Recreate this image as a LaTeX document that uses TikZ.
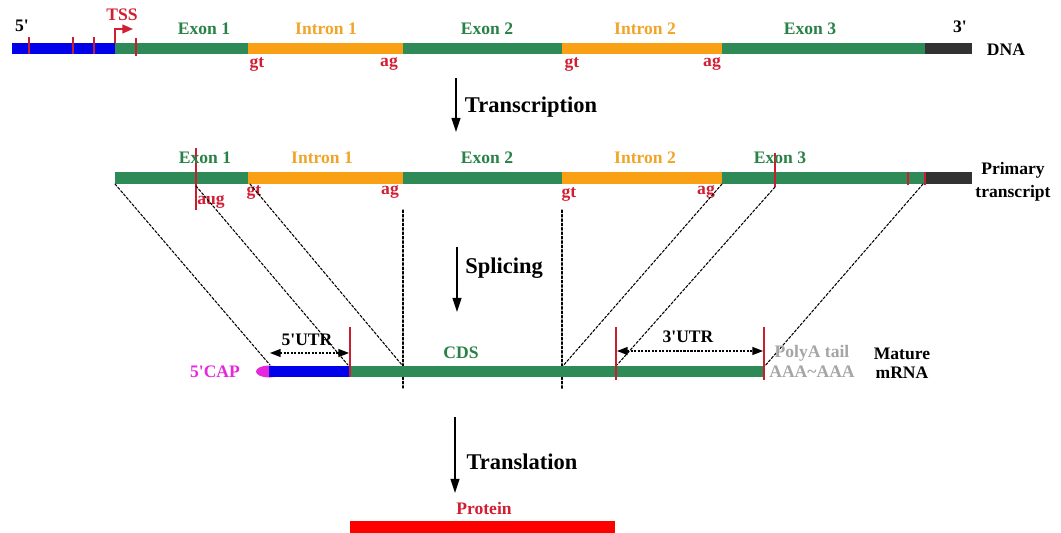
\documentclass[tikz,border=0pt]{standalone}
\usepackage{fontspec}
\setmainfont{Liberation Serif}
\usepackage{tkz-euclide}
\usetikzlibrary{arrows.meta}

\definecolor{dnablue}{RGB}{0,0,235}
\definecolor{exongreen}{RGB}{46,139,87}
\definecolor{introngold}{RGB}{250,160,20}
\definecolor{tailgray}{RGB}{50,50,50}
\definecolor{tickred}{RGB}{200,30,45}
\definecolor{labred}{RGB}{210,30,50}
\definecolor{capmag}{RGB}{230,40,220}
\definecolor{polygray}{RGB}{165,165,165}
\definecolor{labgreen}{RGB}{40,130,70}
\definecolor{labgold}{RGB}{240,165,40}

\tikzset{
  lab/.style={font=\bfseries\fontsize{10}{13}\selectfont, inner sep=0pt},
  steplab/.style={font=\bfseries\fontsize{12.8}{15}\selectfont, inner sep=0pt},
  site/.style={draw=tickred, line width=0.8pt},
  splice/.style={black, line width=0.6pt, dash pattern=on 1.5pt off 1pt},
  flow/.style={black, line width=1pt, -{Triangle[length=8pt,width=5pt]}},
  span/.style={black, line width=0.8pt, dash pattern=on 1.2pt off 0.8pt,
    {Triangle[length=6pt,width=4.5pt]}-{Triangle[length=6pt,width=4.5pt]}},
  tssarrow/.style={draw=labred, line width=0.9pt, -{Triangle[length=6pt,width=5pt]}}
}

\begin{document}
\begin{tikzpicture}[x=0.02cm,y=-0.02cm]
  \useasboundingbox (0,0) rectangle (1061,533);

  % DNA
  \foreach \xa/\xb/\col in {12/115/dnablue, 115/248/exongreen, 248/403/introngold,
      403/562/exongreen, 562/722/introngold, 722/925/exongreen, 925/972/tailgray}
    \fill[\col] (\xa,43) rectangle (\xb,54);
  \foreach \xt in {29,73,94}
    \draw[site] (\xt,37) -- (\xt,54);
  \draw[site] (136,38) -- (136,56);
  \tkzDefPoints{115/43/P, 115/29/Q, 133/29/R}
  \draw[tssarrow] (P) -- (Q) -- (R);

  \node[lab] (d5) at (22,26) {5\textquotesingle};
  \node[lab, labred] (tss) at (122,15) {TSS};
  \node[lab, labgreen] (dex1) at (204,29) {Exon 1};
  \node[lab, labgold] (din1) at (326,29) {Intron 1};
  \node[lab, labgreen] (dex2) at (487,29) {Exon 2};
  \node[lab, labgold] (din2) at (645,29) {Intron 2};
  \node[lab, labgreen] (dex3) at (810,29) {Exon 3};
  \node[lab] (d3) at (960,27) {3\textquotesingle};
  \node[lab] (dna) at (1006,50) {DNA};
  \node[lab, labred] (dgt1) at (257,64) {gt};
  \node[lab, labred] (dag1) at (389,64) {ag};
  \node[lab, labred] (dgt2) at (572,64) {gt};
  \node[lab, labred] (dag2) at (712,64) {ag};

  % primary transcript
  \foreach \xa/\xb/\col in {115/248/exongreen, 248/403/introngold, 403/562/exongreen,
      562/722/introngold, 722/925/exongreen, 925/972/tailgray}
    \fill[\col] (\xa,172) rectangle (\xb,184);
  \draw[site] (196,148) -- (196,210);
  \draw[site] (775,153) -- (775,187);
  \draw[site] (908,172) -- (908,185);
  \draw[site] (925,172) -- (925,185);

  \node[lab, labgreen] (pex1) at (205,158) {Exon 1};
  \node[lab, labgold] (pin1) at (322,158) {Intron 1};
  \node[lab, labgreen] (pex2) at (487,158) {Exon 2};
  \node[lab, labgold] (pin2) at (645,158) {Intron 2};
  \node[lab, labgreen] (pex3) at (780,158) {Exon 3};
  \node[lab, labred] (aug) at (211,202) {aug};
  \node[lab, labred] (pgt1) at (254,192) {gt};
  \node[lab, labred] (pag1) at (390,192) {ag};
  \node[lab, labred] (pgt2) at (569,194) {gt};
  \node[lab, labred] (pag2) at (706,192) {ag};
  \node[lab, align=center] (prim) at (1013,182) {Primary\\transcript};

  % splicing guides
  \tkzDefPoints{115/184/A1, 270/365/B1, 196/186/A2, 348/365/B2,
    250/184/A3, 402/365/B3, 722/184/A4, 562/367/B4,
    775/187/A5, 617/365/B5, 923/184/A6, 764/367/B6,
    403/210/V1, 403/388/W1, 562/210/V2, 562/390/W2}
  \tkzDrawSegments[splice](A1,B1 A2,B2 A3,B3 A4,B4 A5,B5 A6,B6 V1,W1 V2,W2)

  % mature mRNA
  \fill[capmag] (269,371.5) ellipse[x radius=13, y radius=6];
  \fill[dnablue] (269,366) rectangle (350,377);
  \fill[exongreen] (350,366) rectangle (764,377);
  \draw[site] (350,327) -- (350,377);
  \draw[site] (616,327) -- (616,380);
  \draw[site] (764,327) -- (764,380);
  \tkzDefPoints{270/353/U1, 349/353/U2, 617/351/U3, 763/351/U4}
  \draw[span] (U1) -- (U2);
  \draw[span] (U3) -- (U4);

  \node[lab, capmag] (cap) at (215,372) {5\textquotesingle CAP};
  \node[lab] (utr5) at (307,340) {5\textquotesingle UTR};
  \node[lab, labgreen] (cds) at (461,353) {CDS};
  \node[lab] (utr3) at (688,337) {3\textquotesingle UTR};
  \node[lab, polygray] (polya) at (812,353) {PolyA tail};
  \node[lab, polygray] (aaa) at (812,372) {AAA\textasciitilde AAA};
  \node[lab, align=center, font=\bfseries\fontsize{10}{11}\selectfont] (mature) at (902,363) {Mature\\mRNA};

  % protein
  \fill[red] (350,521) rectangle (615,533);
  \node[lab, labred] (prot) at (484,508) {Protein};

  % steps
  \tkzDefPoints{456/78/T1, 456/132/T2, 457/247/S1, 457/312/S2, 455/417/L1, 455/493/L2}
  \draw[flow] (T1) -- (T2);
  \draw[flow] (S1) -- (S2);
  \draw[flow] (L1) -- (L2);
  \node[steplab] (trans) at (531,107) {Transcription};
  \node[steplab] (splic) at (504,268) {Splicing};
  \node[steplab] (transl) at (522,462) {Translation};
\end{tikzpicture}
\end{document}
